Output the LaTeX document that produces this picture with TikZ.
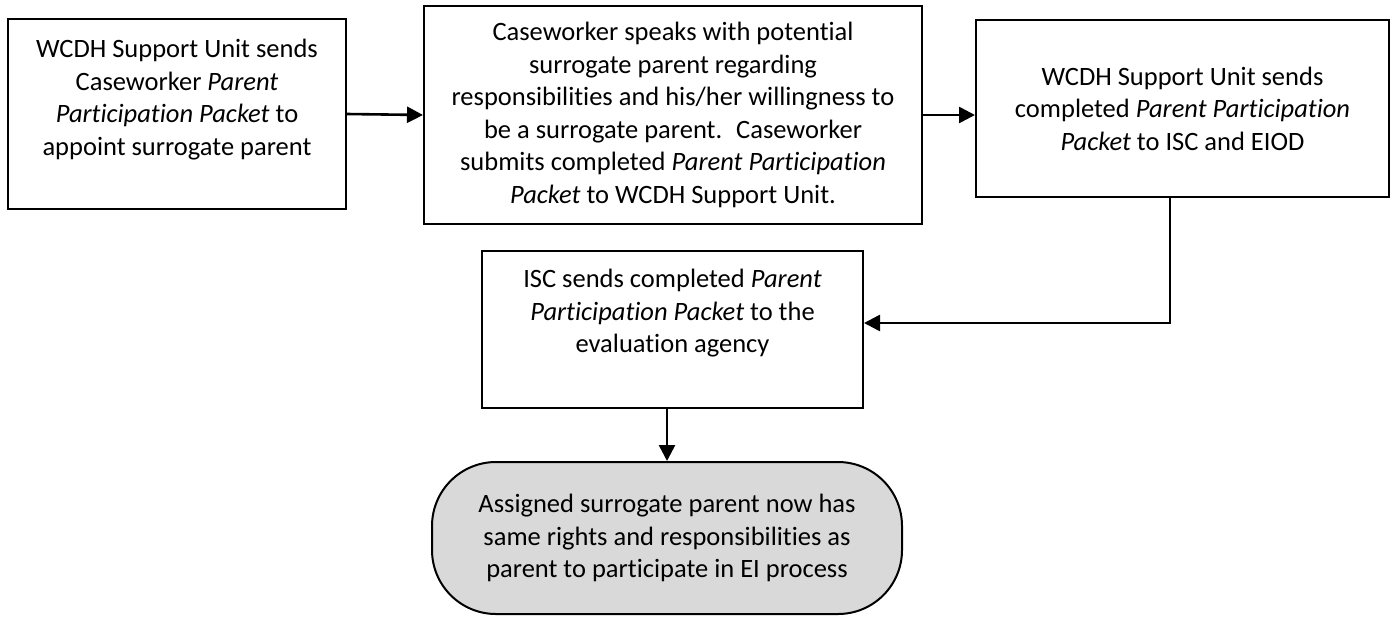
\documentclass[tikz,border=0pt]{standalone}
\usepackage{fontspec}
\setmainfont{Carlito}[Ligatures=NoCommon]
\usetikzlibrary{arrows.meta}

\tikzset{
  flowbox/.style={draw, line width=1pt, rectangle, inner sep=0pt, align=center,
    font=\fontsize{13.25}{16.3}\selectfont},
  endbox/.style={draw, line width=1pt, rounded corners=32pt, fill=gray!30, align=center,
    minimum width=235pt, minimum height=76pt, font=\fontsize{13.25}{16.3}\selectfont},
  flowarrow/.style={line width=1.3pt, -{Triangle[length=8pt,width=8pt]}}
}

\begin{document}
\begin{tikzpicture}[x=0.5pt,y=-0.5pt]

\useasboundingbox (0,0) rectangle (1395,616);

\node[flowbox] (send) at (177,114) {\parbox[c][95pt][t]{169pt}{\centering\vspace*{10pt}%
  WCDH Support Unit sends\\ Caseworker \textit{Parent}\\ \textit{Participation Packet} to\\ appoint surrogate parent}};
\node[flowbox, minimum width=249pt, minimum height=109pt] (speak) at (673,115)
  {Caseworker speaks with potential\\ surrogate parent regarding\\ responsibilities and his/her willingness to\\
   be a surrogate parent.~ Caseworker\\ submits completed \textit{Parent Participation}\\ \textit{Packet} to WCDH Support Unit.};
\node[flowbox, minimum width=206.5pt, minimum height=88.5pt] (forward) at (1182.5,108.5)
  {WCDH Support Unit sends\\ completed \textit{Parent Participation}\\ \textit{Packet} to ISC and EIOD};
\node[flowbox] (isc) at (672.5,329.5) {\parbox[c][78.5pt][t]{190.5pt}{\centering\vspace*{9pt}%
  ISC sends completed \textit{Parent}\\ \textit{Participation Packet} to the\\ evaluation agency}};
\node[endbox] (rights) at (667,538)
  {Assigned surrogate parent now has\\ same rights and responsibilities as\\ parent to participate in EI process};

\coordinate (bend) at (1170,323);

\draw[flowarrow] (send.east) -- (speak.west);
\draw[flowarrow] (speak.east) -- (speak.east -| forward.west);
\draw[flowarrow] (forward.south -| bend) -- (bend) -- (bend -| isc.east);
\draw[flowarrow] (isc.south -| rights.north) -- (rights.north);

\end{tikzpicture}
\end{document}
